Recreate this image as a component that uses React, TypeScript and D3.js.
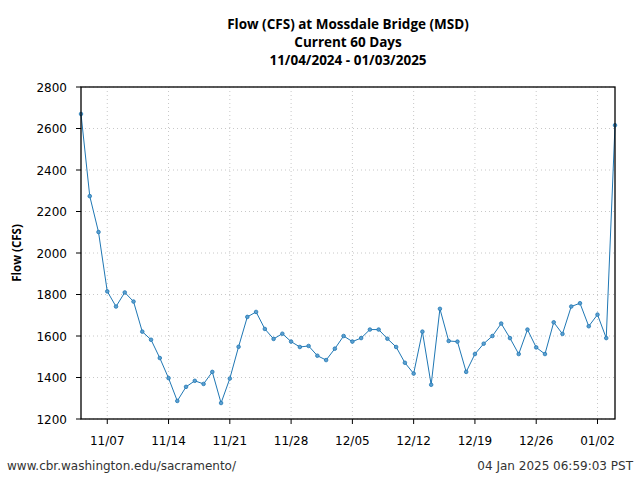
import React from "react";
import * as d3 from "d3";

const titleLines = ["Flow (CFS) at Mossdale Bridge (MSD)", "Current 60 Days", "11/04/2024 - 01/03/2025"];
const yLabel = "Flow (CFS)";
const footerLeft = "www.cbr.washington.edu/sacramento/";
const footerRight = "04 Jan 2025 06:59:03 PST";

const startDate = new Date(2024, 10, 4);
const endDate = new Date(2025, 0, 4);
const firstTickDate = new Date(2024, 10, 7);

const flowValues = [
  2670, 2274, 2101, 1815, 1742, 1810, 1766, 1621, 1582, 1494,
  1397, 1287, 1355, 1384, 1369, 1427, 1277, 1395, 1548, 1692,
  1716, 1634, 1586, 1611, 1573, 1547, 1552, 1505, 1484, 1539,
  1600, 1573, 1590, 1631, 1631, 1587, 1547, 1471, 1419, 1621,
  1365, 1731, 1576, 1573, 1427, 1513, 1563, 1600, 1660, 1590,
  1513, 1631, 1545, 1513, 1666, 1610, 1742, 1758, 1647, 1703,
  1590, 2616,
];
const yTicks = [1200, 1400, 1600, 1800, 2000, 2200, 2400, 2600, 2800];

const W = 640, H = 480;
const M = { left: 81, right: 25, top: 87, bottom: 61 };

export default function App() {
  const dates = d3.timeDay.range(startDate, d3.timeDay.offset(endDate, 1));
  const data = dates.map((d, i) => ({ date: d, value: flowValues[i] }));
  const x = d3.scaleTime().domain([startDate, endDate]).range([M.left, W - M.right]);
  const y = d3.scaleLinear().domain([1200, 2800]).range([H - M.bottom, M.top]);
  const xTicks = d3.timeDay.range(firstTickDate, endDate, 7);
  const fmt = d3.timeFormat("%m/%d");
  const line = d3.line<{ date: Date; value: number }>().x((d) => x(d.date)).y((d) => y(d.value));
  const x0 = M.left, x1 = W - M.right, y0 = M.top, y1 = H - M.bottom;
  const color = "#1f77b4";
  return (
    <svg width={W} height={H} style={{ position: "absolute", left: 0, top: 0, background: "#fff" }}>
      <rect x={0} y={0} width={W} height={H} fill="#fff" />
      {titleLines.map((t, i) => (
        <text key={i} x={(x0 + x1) / 2} y={29 + i * 18} textAnchor="middle" fontFamily="Open Sans" fontWeight="bold" fontSize={13.5} fill="#000">
          {t}
        </text>
      ))}
      {yTicks.map((t) => (
        <line key={"gy" + t} x1={x0} x2={x1} y1={y(t)} y2={y(t)} stroke="#c8c8c8" strokeWidth={1} strokeDasharray="1,3" />
      ))}
      {xTicks.map((t) => (
        <line key={"gx" + +t} x1={x(t)} x2={x(t)} y1={y0} y2={y1} stroke="#c8c8c8" strokeWidth={1} strokeDasharray="1,3" />
      ))}
      <path d={line(data) || ""} fill="none" stroke={color} strokeWidth={1} />
      {data.map((d, i) => (
        <circle key={i} cx={x(d.date)} cy={y(d.value)} r={1.8} fill="#5b9fd0" stroke={color} strokeWidth={0.8} />
      ))}
      <rect x={x0} y={y0} width={x1 - x0} height={y1 - y0} fill="none" stroke="#000" strokeWidth={1.3} />
      {yTicks.map((t) => (
        <g key={"ty" + t}>
          <line x1={x0 - 5} x2={x0} y1={y(t)} y2={y(t)} stroke="#000" />
          <text x={x0 - 14} y={y(t) + 4.5} textAnchor="end" fontFamily="DejaVu Sans" fontSize={12} fill="#000">{t}</text>
        </g>
      ))}
      {xTicks.map((t) => (
        <g key={"tx" + +t}>
          <line x1={x(t)} x2={x(t)} y1={y1} y2={y1 + 5} stroke="#000" />
          <text x={x(t)} y={y1 + 26} textAnchor="middle" fontFamily="DejaVu Sans" fontSize={12} fill="#000">{fmt(t)}</text>
        </g>
      ))}
      <text transform={`translate(20.5, ${(y0 + y1) / 2}) rotate(-90)`} textAnchor="middle" fontFamily="Open Sans" fontWeight="bold" fontSize={11.5} fill="#000">{yLabel}</text>
      <text x={7} y={470} fontFamily="DejaVu Sans" fontSize={12} fill="#333">{footerLeft}</text>
      <text x={633} y={470} textAnchor="end" fontFamily="DejaVu Sans" fontSize={12} fill="#333">{footerRight}</text>
    </svg>
  );
}
